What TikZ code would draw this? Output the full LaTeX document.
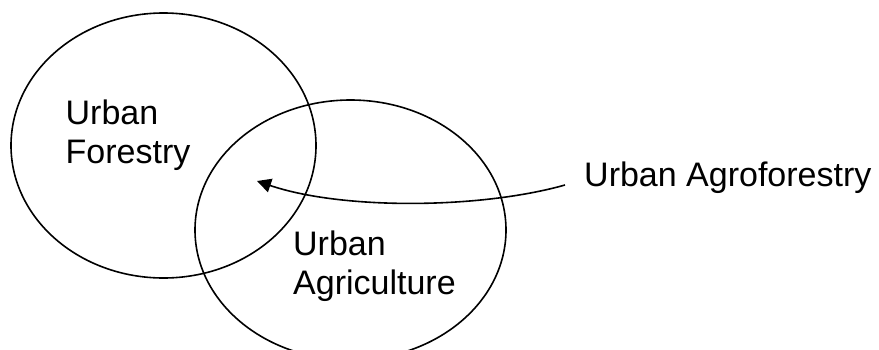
\documentclass[tikz,border=0pt]{standalone}
\usepackage{fontspec}
\setmainfont{Liberation Sans}
\usetikzlibrary{shapes.geometric,arrows.meta}
\tikzset{
  setring/.style={ellipse, draw, line width=1.6pt, inner sep=0pt, outer sep=0pt},
  lbl/.style={anchor=base west, inner sep=0pt, align=left, font=\fontsize{34}{39}\selectfont},
  pointer/.style={line width=1.6pt, -{Triangle[length=14pt,width=14pt]}}
}
\begin{document}
\begin{tikzpicture}[x=1pt,y=-1pt]
\useasboundingbox (0,0) rectangle (879,349);
\clip (0,0) rectangle (879,349);
\fill[white] (0,0) rectangle (879,349);
\node[setring, minimum width=305pt, minimum height=265pt] (forestry) at (163.5,145.5) {};
\node[setring, minimum width=311pt, minimum height=260pt] (agri) at (350.5,230) {};
\node[lbl] (tforestry) at (65.5,163.5) {Urban\\Forestry};
\node[lbl] (tagri) at (293,294) {Urban\\Agriculture};
\node[lbl] (tagro) at (584,186) {Urban Agroforestry};
\coordinate (start) at (565,185);
\coordinate (tip) at (257,181);
\draw[pointer] (start) .. controls (480,209) and (342,210) .. (tip);
\end{tikzpicture}
\end{document}
